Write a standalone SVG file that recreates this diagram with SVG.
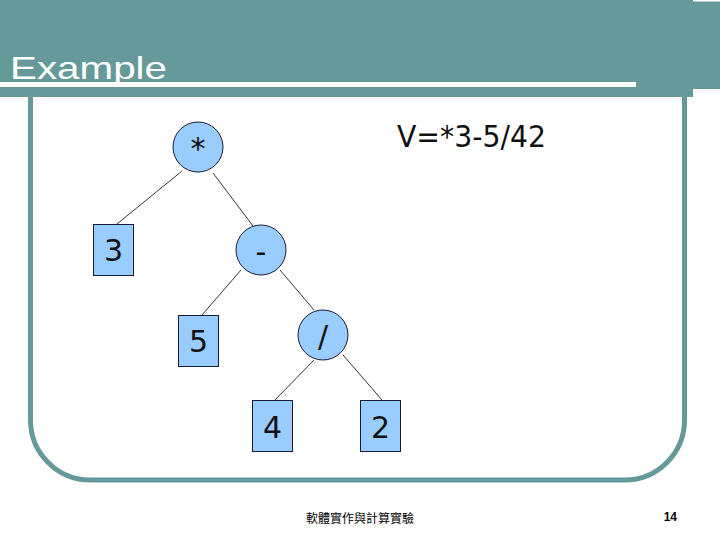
<svg xmlns="http://www.w3.org/2000/svg" width="720" height="540" viewBox="0 0 720 540">
<style>
.node{fill:#99ccff;stroke:#1a1a2e;stroke-width:1}
.lbl{font-family:"DejaVu Sans",sans-serif;font-size:30px;fill:#111;text-anchor:middle}
.edge{stroke:#000;stroke-width:0.8;fill:none}
</style>
<rect x="0" y="0" width="720" height="540" fill="#ffffff"/>
<g id="slide-frame">
<path d="M30.5 96 V420 A60 60 0 0 0 90.5 480 H624.5 A60 60 0 0 0 684.5 420 V96" fill="none" stroke="#669999" stroke-width="5"/>
<rect x="0" y="0" width="720" height="89" fill="#669999"/>
<rect x="0" y="88" width="693" height="9" fill="#669999"/>
<rect x="693" y="0" width="27" height="1.5" fill="#ffffff"/>
<rect x="0" y="82" width="636" height="5" fill="#ffffff"/>
<text x="10" y="79" font-family="Liberation Sans, Arial, sans-serif" font-size="32" fill="#ffffff" textLength="157" lengthAdjust="spacingAndGlyphs">Example</text>
</g>
<text x="397" y="147" font-family="DejaVu Sans, sans-serif" font-size="30" fill="#111" textLength="149" lengthAdjust="spacingAndGlyphs">V=*3-5/42</text>
<g id="connectors">
<line class="edge" x1="182" y1="171" x2="117" y2="224"/>
<line class="edge" x1="213" y1="173" x2="253" y2="226"/>
<line class="edge" x1="241" y1="270" x2="202" y2="315"/>
<line class="edge" x1="280" y1="270" x2="314" y2="310"/>
<line class="edge" x1="314" y1="360" x2="275" y2="400"/>
<line class="edge" x1="343" y1="355" x2="382" y2="400"/>
</g>
<g id="n-mul"><circle class="node" cx="198" cy="147" r="25"/><text class="lbl" x="198" y="159">*</text></g>
<g id="n-3"><rect class="node" x="93.5" y="224.5" width="40" height="51"/><text class="lbl" x="113.5" y="261">3</text></g>
<g id="n-minus"><circle class="node" cx="261" cy="250" r="25"/><text class="lbl" x="261" y="262">-</text></g>
<g id="n-5"><rect class="node" x="178.5" y="315.5" width="40" height="51"/><text class="lbl" x="198.5" y="352">5</text></g>
<g id="n-div"><circle class="node" cx="323" cy="335" r="25"/><text class="lbl" x="323" y="347">/</text></g>
<g id="n-4"><rect class="node" x="252.5" y="400.5" width="40" height="51"/><text class="lbl" x="272.5" y="438">4</text></g>
<g id="n-2"><rect class="node" x="360.5" y="400.5" width="40" height="51"/><text class="lbl" x="380.5" y="438">2</text></g>
<text x="360" y="523" font-family="Noto Sans CJK TC, sans-serif" font-size="12" fill="#000" text-anchor="middle">軟體實作與計算實驗</text>
<text x="677" y="521" font-family="Liberation Sans, Arial, sans-serif" font-size="12" font-weight="bold" fill="#000" text-anchor="end">14</text>
</svg>
